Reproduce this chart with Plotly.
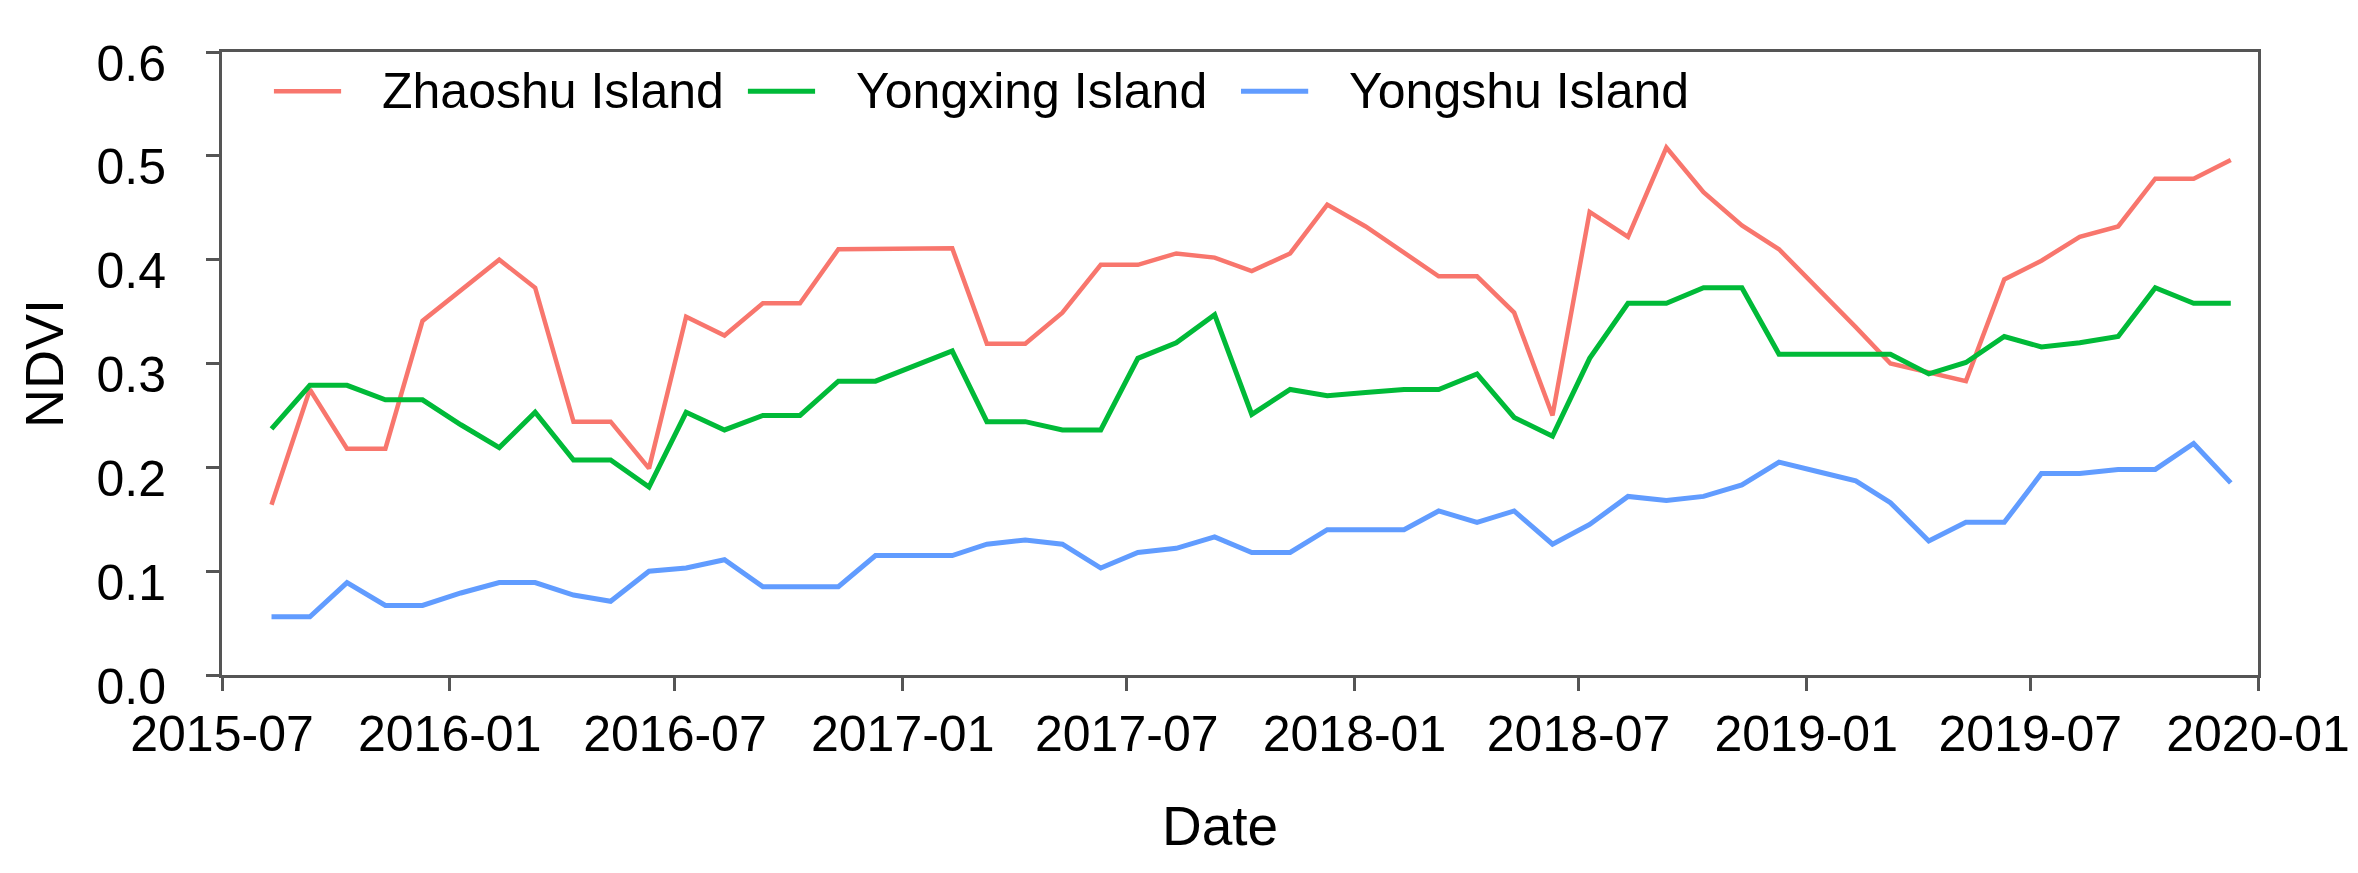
import pandas as pd
import plotly.graph_objects as go

# monthly NDVI, Aug 2015 - Dec 2019
datas = pd.date_range("2015-08-10", periods=53, freq=pd.DateOffset(months=1))

zhaoshu = [0.164, 0.275, 0.218, 0.218, 0.341, 0.370, 0.400, 0.373, 0.244, 0.244,
           0.199, 0.345, 0.327, 0.358, 0.358, 0.410, 0.410, 0.411, 0.411, 0.319,
           0.319, 0.349, 0.395, 0.395, 0.406, 0.402, 0.389, 0.406, 0.453, 0.432,
           0.407, 0.384, 0.384, 0.349, 0.250, 0.446, 0.422, 0.508, 0.465, 0.433,
           0.410, 0.373, 0.335, 0.300, 0.291, 0.283, 0.381, 0.399, 0.422, 0.432,
           0.478, 0.478, 0.496]

yongxing = [0.237, 0.279, 0.279, 0.265, 0.265, 0.241, 0.219, 0.253, 0.207, 0.207,
            0.181, 0.253, 0.236, 0.250, 0.250, 0.283, 0.283, 0.298, 0.312, 0.244,
            0.244, 0.236, 0.236, 0.305, 0.320, 0.347, 0.251, 0.275, 0.269, 0.272,
            0.275, 0.275, 0.290, 0.248, 0.230, 0.305, 0.358, 0.358, 0.373, 0.373,
            0.309, 0.309, 0.309, 0.309, 0.290, 0.301, 0.326, 0.316, 0.320, 0.326,
            0.373, 0.358, 0.358]

yongshu = [0.056, 0.056, 0.089, 0.067, 0.067, 0.079, 0.089, 0.089, 0.077, 0.071,
           0.100, 0.103, 0.111, 0.085, 0.085, 0.085, 0.115, 0.115, 0.115, 0.126,
           0.130, 0.126, 0.103, 0.118, 0.122, 0.133, 0.118, 0.118, 0.140, 0.140,
           0.140, 0.158, 0.147, 0.158, 0.126, 0.145, 0.172, 0.168, 0.172, 0.183,
           0.205, 0.196, 0.187, 0.166, 0.129, 0.147, 0.147, 0.194, 0.194, 0.198,
           0.198, 0.223, 0.185]

nomes = ["Zhaoshu Island", "Yongxing Island", "Yongshu Island"]
cores = ["#F8766D", "#00BA38", "#619CFF"]
larguras = [4.5, 5, 5]
series = [zhaoshu, yongxing, yongshu]

fonte = "Liberation Sans, Arial, sans-serif"
eixo = "#555555"

fig = go.Figure()

for nome, cor, lw, vals in zip(nomes, cores, larguras, series):
    fig.add_trace(go.Scatter(
        x=datas, y=vals, name=nome, mode="lines",
        line=dict(color=cor, width=lw),
        showlegend=False,
    ))

# legenda desenhada à mão (amostras de linha mais longas que as do plotly)
leg_x = [0.0255, 0.2583, 0.5005]
for nome, cor, lw, x0 in zip(nomes, cores, larguras, leg_x):
    fig.add_shape(type="line", xref="paper", yref="paper",
                  x0=x0, x1=x0 + 0.033, y0=0.937, y1=0.937,
                  line=dict(color=cor, width=lw))
    fig.add_annotation(xref="paper", yref="paper", x=x0 + 0.052, y=0.937,
                       text=nome, showarrow=False, xanchor="left", yanchor="middle",
                       font=dict(size=50, color="black", family=fonte))

# título do eixo x um pouco à esquerda do centro, como no original
fig.add_annotation(xref="paper", yref="paper", x=0.490, y=-0.243,
                   text="Date", showarrow=False, xanchor="center", yanchor="middle",
                   font=dict(size=55, color="black", family=fonte))

# o body da página tem 8px de margem, por isso l/t menores
fig.update_layout(
    width=2358, height=873,
    margin=dict(l=214, r=108, t=44, b=206),
    plot_bgcolor="white", paper_bgcolor="white",
    font=dict(family=fonte, color="black", size=50),
    xaxis=dict(
        range=["2015-07-01", "2020-01-01"],
        tickformat="%Y-%m", dtick="M6", tick0="2015-07-01",
        showgrid=False, zeroline=False,
        showline=True, mirror=True, linecolor=eixo, linewidth=3,
        ticks="outside", ticklen=13, tickwidth=3, tickcolor=eixo,
        ticklabelstandoff=0,
    ),
    yaxis=dict(
        title=dict(text="NDVI", font=dict(size=54), standoff=16),
        range=[0, 0.6], dtick=0.1, tickformat=".1f",
        showgrid=False, zeroline=False,
        showline=True, mirror=True, linecolor=eixo, linewidth=3,
        ticks="outside", ticklen=13, tickwidth=3, tickcolor=eixo,
        ticklabelstandoff=30, ticklabelshift=11,
    ),
)

fig.write_html("out.html")
